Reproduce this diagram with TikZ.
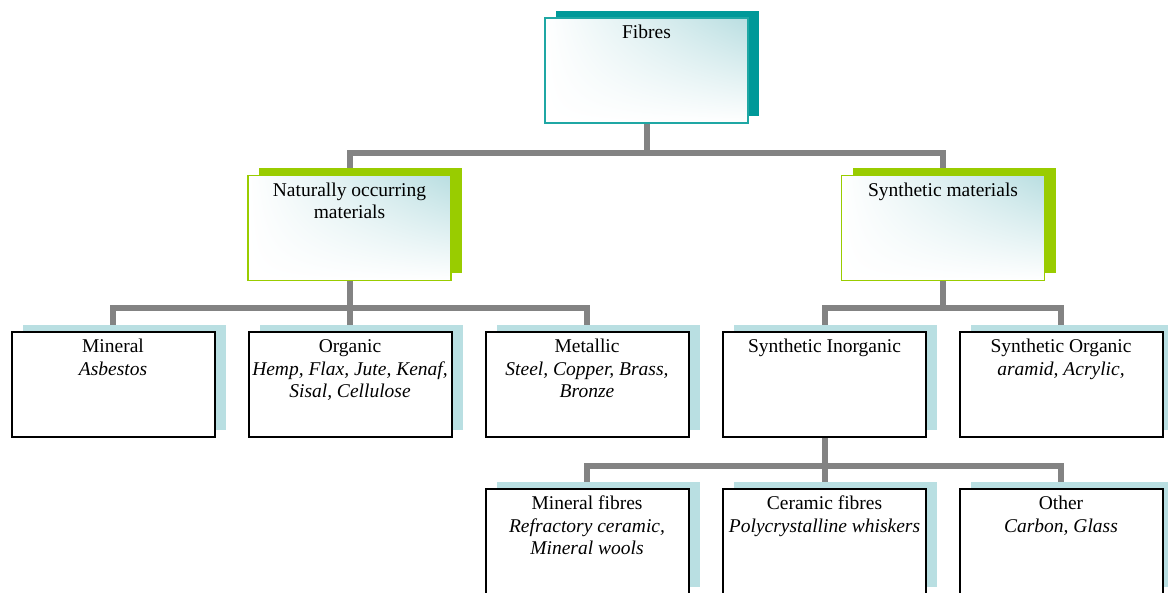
\documentclass[tikz,border=0pt]{standalone}
\usepackage{fontspec}
\setmainfont{Liberation Serif}
\usetikzlibrary{positioning, shadows, shadings, backgrounds}

\definecolor{fibteal}{HTML}{009999}
\definecolor{fibedge}{HTML}{1FA7A4}
\definecolor{natgreen}{HTML}{99CC00}
\definecolor{leafblue}{HTML}{B9DFE2}
\definecolor{glow}{HTML}{B9DEE1}
\definecolor{linkgray}{HTML}{838383}

\newcommand{\boxlines}[1]{\parbox[t][95pt][t]{199pt}{\centering\strut #1}}

\begin{document}
\begin{tikzpicture}[x=1pt, y=-1pt,
  box/.style={rectangle, inner xsep=2pt, inner ysep=5pt, line width=1.6pt,
              font=\fontsize{19.5}{22.5}\selectfont},
  headbox/.style={box, draw=fibedge, upper right=glow, upper left=white,
                  lower left=white, lower right=white,
                  copy shadow={shadow xshift=11pt, shadow yshift=7pt, fill=fibteal, draw=none}},
  groupbox/.style={box, draw=natgreen, upper right=glow, upper left=white,
                   lower left=white, lower right=white,
                   copy shadow={shadow xshift=11pt, shadow yshift=7pt, fill=natgreen, draw=none}},
  leafbox/.style={box, draw=black, fill=white, line width=2pt,
                  copy shadow={shadow xshift=11pt, shadow yshift=7pt, fill=leafblue, draw=none}},
  link/.style={draw=linkgray, line width=6pt}
]
\useasboundingbox (0,0) rectangle (1168,593);

\node[headbox] (fib) at (646.5,70.5) {\boxlines{Fibres}};

\node[groupbox] (nat) at (349.5,228) {\boxlines{Naturally occurring\\materials}};
\node[groupbox] (syn) at (943,228) {\boxlines{Synthetic materials}};

\node[leafbox] (mnl) at (113,384.5) {\boxlines{Mineral\\\textit{Asbestos}}};
\node[leafbox] (org) at (350,384.5) {\boxlines{Organic\\\textit{Hemp, Flax, Jute, Kenaf,\\Sisal, Cellulose}}};
\node[leafbox] (met) at (587,384.5) {\boxlines{Metallic\\\textit{Steel, Copper, Brass,\\Bronze}}};
\node[leafbox] (sin) at (824.5,384.5) {\boxlines{Synthetic Inorganic}};
\node[leafbox] (sor) at (1061,384.5) {\boxlines{Synthetic Organic\\\textit{aramid, Acrylic,}}};

\node[leafbox] (mfb) at (587,541.5) {\boxlines{Mineral fibres\\\textit{Refractory ceramic,\\Mineral wools}}};
\node[leafbox] (cfb) at (824.5,541.5) {\boxlines{Ceramic fibres\\\textit{Polycrystalline whiskers}}};
\node[leafbox] (oth) at (1061,541.5) {\boxlines{Other\\\textit{Carbon, Glass}}};

\begin{scope}[on background layer]
\draw[link] (fib.south) -- ++(0pt,-29pt) -| (nat.north);
\draw[link] (fib.south) -- ++(0pt,-29pt) -| (syn.north);
\draw[link] (nat.south) -- ++(0pt,-27pt) -| (mnl.north);
\draw[link] (nat.south) -- ++(0pt,-27pt) -| (org.north);
\draw[link] (nat.south) -- ++(0pt,-27pt) -| (met.north);
\draw[link] (syn.south) -- ++(0pt,-27pt) -| (sin.north);
\draw[link] (syn.south) -- ++(0pt,-27pt) -| (sor.north);
\draw[link] (sin.south) -- ++(0pt,-28pt) -| (mfb.north);
\draw[link] (sin.south) -- ++(0pt,-28pt) -| (cfb.north);
\draw[link] (sin.south) -- ++(0pt,-28pt) -| (oth.north);
\end{scope}
\end{tikzpicture}
\end{document}
